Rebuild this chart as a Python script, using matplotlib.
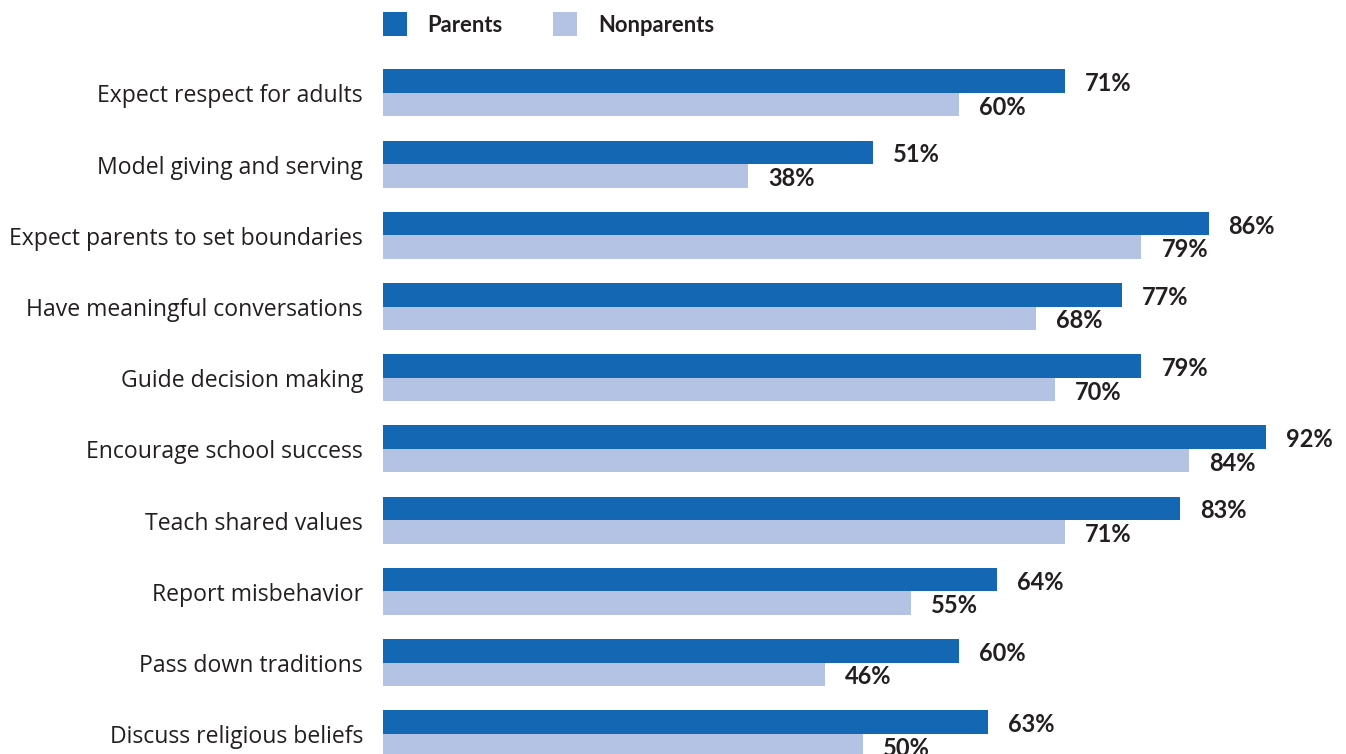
import matplotlib
matplotlib.use("Agg")
import matplotlib.pyplot as plt
from matplotlib.patches import Rectangle
import numpy as np

categories = [
    "Expect respect for adults",
    "Model giving and serving",
    "Expect parents to set boundaries",
    "Have meaningful conversations",
    "Guide decision making",
    "Encourage school success",
    "Teach shared values",
    "Report misbehavior",
    "Pass down traditions",
    "Discuss religious beliefs",
]
parents = [71, 51, 86, 77, 79, 92, 83, 64, 60, 63]
nonparents = [60, 38, 79, 68, 70, 84, 71, 55, 46, 50]
series_names = ["Parents", "Nonparents"]

DARK = "#1467B3"
LIGHT = "#B4C2E4"
TEXT = "#231F20"

W, H = 1346, 754
fig = plt.figure(figsize=(W / 100, H / 100), dpi=100)
ax = fig.add_axes([383 / W, 0, 960 / W, 1])

y = np.arange(len(categories))
bh = 0.33
ax.barh(y - bh / 2, parents, height=bh, color=DARK, linewidth=0)
ax.barh(y + bh / 2, nonparents, height=bh, color=LIGHT, linewidth=0)

ax.set_xlim(0, 100)
ax.set_ylim(9.284, -1.306)
ax.axis("off")

val_font = dict(family="Lato", weight="bold", size=17, color=TEXT)
for i, (p, n) in enumerate(zip(parents, nonparents)):
    ax.annotate(f"{p}%", (p, i - bh / 2), xytext=(14.4, -1.8), textcoords="offset points",
                ha="left", va="center", **val_font)
    ax.annotate(f"{n}%", (n, i + bh / 2), xytext=(14.4, -1.8), textcoords="offset points",
                ha="left", va="center", **val_font)

# category labels to the left of the bars
for i, c in enumerate(categories):
    ax.annotate(c, (0, i), xytext=(-14.4, -2.5), textcoords="offset points",
                ha="right", va="center", family="Open Sans", size=16.6, color=TEXT,
                annotation_clip=False)

# legend
for x0, col, name, tx in [(383, DARK, series_names[0], 427), (553, LIGHT, series_names[1], 598)]:
    fig.patches.append(Rectangle((x0 / W, 1 - 36 / H), 24 / W, 24 / H,
                                 transform=fig.transFigure, color=col, linewidth=0))
    fig.text(tx / W, 1 - 25.5 / H, name, ha="left", va="center", family="Lato",
             weight="bold", size=15.8, color=TEXT)

fig.savefig("out.png", dpi=100)
